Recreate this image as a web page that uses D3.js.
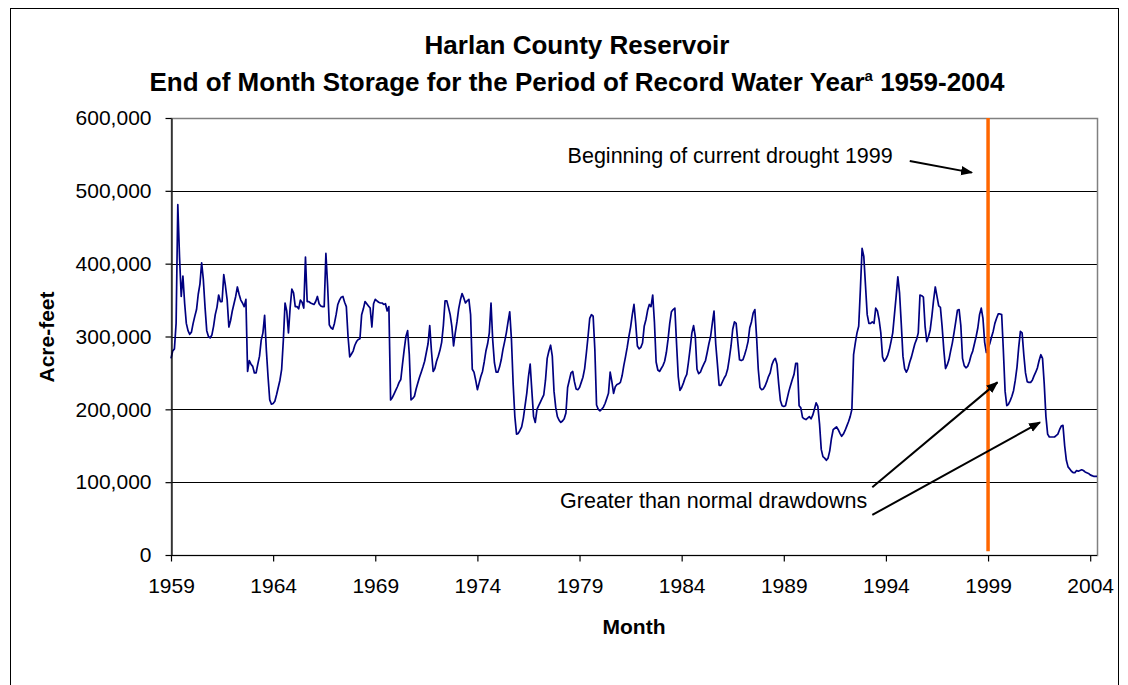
<!DOCTYPE html>
<html>
<head>
<meta charset="utf-8">
<script src="https://cdn.jsdelivr.net/npm/d3@7"></script>
<style>
  html, body { margin: 0; padding: 0; background: #fff; }
  svg { display: block; font-family: "Liberation Sans", Arial, sans-serif; }
</style>
</head>
<body>
<svg id="chart" width="1128" height="685"></svg>
<script>
// ---------- DATA ----------
const startYear = 1959;
// End-of-month storage, thousand acre-feet, one value per month starting Jan 1959
const storageKaf = [
  270,280,283,318,481,410,355,383,346,318,308,303,
  306,318,328,337,358,372,401,378,340,308,300,298,
  302,314,330,340,357,348,348,385,369,350,313,322,
  335,345,355,368,358,350,346,341,351,252,267,262,
  259,250,250,262,273,295,305,329,282,245,213,207,
  208,211,220,230,240,255,295,346,335,305,340,365,
  360,341,341,338,350,347,339,409,348,348,346,345,
  344,348,355,345,342,341,341,414,370,316,312,310,
  318,330,344,350,354,355,347,341,300,272,276,280,
  288,293,296,297,330,338,348,345,342,339,313,345,
  351,349,347,346,346,344,345,335,341,213,216,221,
  226,231,237,241,262,282,300,308,275,213,215,218,
  228,236,244,251,258,266,278,290,315,280,252,256,
  266,273,281,292,315,349,349,340,330,314,287,305,
  320,338,350,359,353,346,349,351,330,255,251,240,
  227,236,245,252,265,280,290,305,346,295,264,251,
  251,258,268,282,293,305,320,334,296,235,190,166,
  167,171,176,188,205,222,245,262,225,190,182,200,
  205,210,215,220,240,270,280,288,273,225,203,190,
  185,182,184,187,195,230,240,250,252,238,228,227,
  230,237,244,256,277,300,325,330,328,282,206,200,
  198,200,203,208,215,222,251,238,222,231,234,235,
  237,246,260,272,285,300,313,330,344,318,287,283,
  285,291,314,323,336,344,341,357,320,265,254,252,
  256,260,266,278,296,318,334,337,339,290,245,226,
  230,236,243,248,265,284,305,315,300,255,249,251,
  257,262,267,278,290,300,318,335,290,262,233,233,
  238,243,247,255,270,287,310,320,318,292,268,267,
  268,275,283,293,312,320,332,337,300,255,230,227,
  228,232,238,245,250,261,267,270,262,235,212,205,
  204,205,215,225,233,241,248,263,263,205,202,189,
  187,186,188,190,187,192,200,209,204,180,145,135,
  133,130,133,143,160,172,174,176,172,167,163,166,
  171,177,183,190,200,275,291,305,314,365,421,410,
  370,330,318,318,320,318,339,335,323,305,272,266,
  269,274,282,293,305,330,355,382,360,318,273,256,
  251,256,265,272,281,290,296,305,357,356,354,314,
  293,300,309,328,350,368,355,342,340,314,282,256,
  261,268,280,291,305,320,336,337,315,270,260,257,
  259,265,274,280,290,300,312,330,339,325,292,278,
  284,290,299,307,318,325,331,331,330,280,225,205,
  207,212,218,226,240,258,285,307,305,275,250,238,
  237,237,240,246,251,257,267,275,270,235,190,166,
  162,162,162,162,164,166,172,177,178,150,130,121,
  118,115,113,113,116,115,116,117,116,114,113,112,
  110,109,108,108,108
];
const yTickValues = [0, 100000, 200000, 300000, 400000, 500000, 600000];
const xTickLabels = ["1959","1964","1969","1974","1979","1984","1989","1994","1999","2004"];
const droughtYear = 1999;

const titleLine1 = "Harlan County Reservoir";
const titleLine2 = "End of Month Storage for the Period of Record Water Year";
const titleSup = "a";
const titleYears = " 1959-2004";
const yTitle = "Acre-feet";
const xTitle = "Month";
const droughtNote = "Beginning of current drought 1999";
const drawdownNote = "Greater than normal drawdowns";

// ---------- LAYOUT ----------
const W = 1128, H = 685;
const plot = { left: 171, right: 1097, top: 118, bottom: 555 };
const font = '"Liberation Sans", Arial, sans-serif';

const svg = d3.select("#chart");
svg.append("rect").attr("width", W).attr("height", H).attr("fill", "#fff");
// outer chart border
svg.append("rect").attr("x", 10.5).attr("y", 8.5).attr("width", 1108).attr("height", 720)
  .attr("fill", "none").attr("stroke", "#000").attr("stroke-width", 1);

const x = d3.scaleLinear().domain([0, storageKaf.length - 1]).range([plot.left, plot.right]);
const y = d3.scaleLinear().domain([0, 600000]).range([plot.bottom, plot.top]);
const monthOf = yr => (yr - startYear) * 12;

// gridlines
svg.append("g").selectAll("line")
  .data(yTickValues.filter(v => v > 0 && v < 600000))
  .join("line")
  .attr("x1", plot.left).attr("x2", plot.right)
  .attr("y1", d => Math.round(y(d)) + 0.5).attr("y2", d => Math.round(y(d)) + 0.5)
  .attr("stroke", "#000").attr("stroke-width", 1);

// plot-area border (gray)
svg.append("rect")
  .attr("x", plot.left + 0.5).attr("y", Math.round(y(600000)) + 0.5)
  .attr("width", plot.right - plot.left).attr("height", Math.round(y(0)) - Math.round(y(600000)))
  .attr("fill", "none").attr("stroke", "#808080").attr("stroke-width", 1.5);

// data line
const line = d3.line().x((d, i) => x(i)).y(d => y(d * 1000));
svg.append("path").datum(storageKaf)
  .attr("d", line).attr("fill", "none")
  .attr("stroke", "#000080").attr("stroke-width", 1.7).attr("stroke-linejoin", "round");

// drought marker line
svg.append("line")
  .attr("x1", x(monthOf(droughtYear))).attr("x2", x(monthOf(droughtYear)))
  .attr("y1", y(600000)).attr("y2", y(5000))
  .attr("stroke", "#FF6600").attr("stroke-width", 3.5);

// axes
const yAxis = d3.axisLeft(y).tickValues(yTickValues).tickFormat(d3.format(","))
  .tickSize(6).tickSizeOuter(0).tickPadding(14);
const gy = svg.append("g").attr("transform", `translate(${plot.left + 0.5},0)`).call(yAxis);
gy.selectAll("text").attr("font-family", font).attr("font-size", 21).attr("fill", "#000");
gy.selectAll("line, path").attr("stroke", "#000").attr("stroke-width", 1.2);

const xTickMonths = xTickLabels.map(s => monthOf(+s));
const xAxis = d3.axisBottom(x).tickValues(xTickMonths)
  .tickFormat((d, i) => xTickLabels[i]).tickSize(6).tickSizeOuter(0).tickPadding(17);
const gx = svg.append("g").attr("transform", `translate(0,${plot.bottom + 0.5})`).call(xAxis);
gx.select(".domain").attr("d", `M${plot.left},0H${plot.right}`);
gx.selectAll("text").attr("font-family", font).attr("font-size", 21).attr("fill", "#000");
gx.selectAll("line, path").attr("stroke", "#000").attr("stroke-width", 1.2);

// titles
const t = svg.append("text").attr("text-anchor", "middle").attr("font-family", font)
  .attr("font-weight", "bold").attr("font-size", 26).attr("fill", "#000");
t.append("tspan").attr("x", 577).attr("y", 54).text(titleLine1);
const t2 = svg.append("text").attr("text-anchor", "middle").attr("font-family", font)
  .attr("font-weight", "bold").attr("font-size", 26).attr("fill", "#000")
  .attr("x", 577).attr("y", 91);
t2.append("tspan").text(titleLine2);
t2.append("tspan").attr("font-size", 15).attr("dy", -10).text(titleSup);
t2.append("tspan").attr("dy", 10).text(titleYears);

svg.append("text").attr("transform", "translate(54,337) rotate(-90)")
  .attr("text-anchor", "middle").attr("font-family", font).attr("font-weight", "bold")
  .attr("font-size", 21).attr("fill", "#000").text(yTitle);
svg.append("text").attr("x", 634).attr("y", 634)
  .attr("text-anchor", "middle").attr("font-family", font).attr("font-weight", "bold")
  .attr("font-size", 21).attr("fill", "#000").text(xTitle);

// annotations (anchored in data coordinates)
const defs = svg.append("defs");
defs.append("marker").attr("id", "ah").attr("viewBox", "0 0 10 10")
  .attr("refX", 9).attr("refY", 5).attr("markerWidth", 6).attr("markerHeight", 6)
  .attr("orient", "auto").attr("markerUnits", "strokeWidth")
  .append("path").attr("d", "M0,1 L10,5 L0,9 Z").attr("fill", "#000");

svg.append("text").attr("x", x(424)).attr("y", y(538000))
  .attr("text-anchor", "end").attr("font-family", font).attr("font-size", 21.5)
  .attr("fill", "#000").text(droughtNote);

svg.append("text").attr("x", x(409)).attr("y", y(64000))
  .attr("text-anchor", "end").attr("font-family", font).attr("font-size", 21.5)
  .attr("fill", "#000").text(drawdownNote);

const arrows = [
  { from: [434, 541000], to: [470.5, 525000] },
  { from: [412, 93000], to: [485.5, 237000] },
  { from: [412, 55000], to: [510.5, 182000] }
];
svg.append("g").selectAll("line").data(arrows).join("line")
  .attr("x1", d => x(d.from[0])).attr("y1", d => y(d.from[1]))
  .attr("x2", d => x(d.to[0])).attr("y2", d => y(d.to[1]))
  .attr("stroke", "#000").attr("stroke-width", 2).attr("marker-end", "url(#ah)");
</script>
</body>
</html>
